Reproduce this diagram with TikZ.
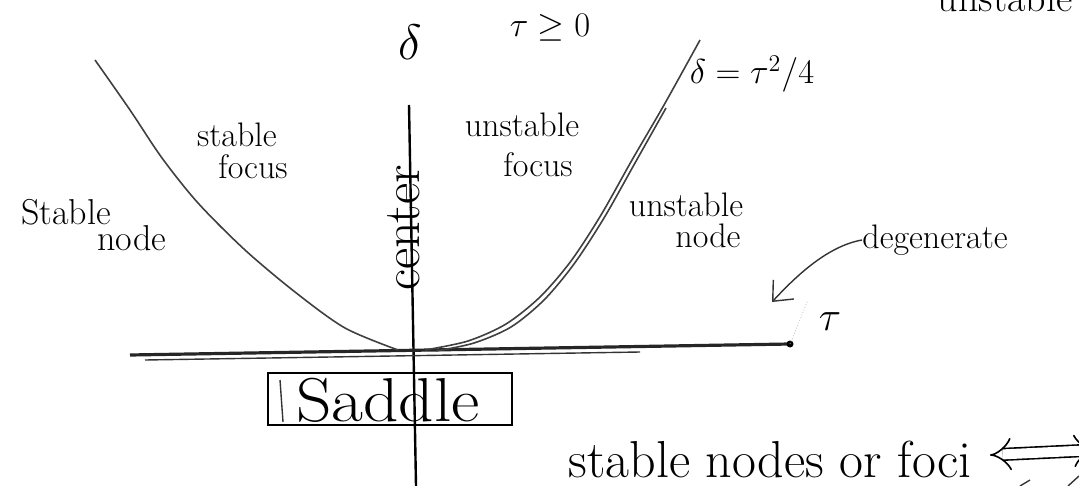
\documentclass[tikz,border=0pt]{standalone}
\usetikzlibrary{arrows.meta}
\begin{document}
\begin{tikzpicture}[x=0.5pt,y=-0.5pt,
  hand/.style={inner sep=0pt, font=\fontsize{17}{19}\selectfont},
  big/.style={inner sep=0pt, font=\fontsize{24}{26}\selectfont},
  axisline/.style={line width=1.6pt, black!85},
  thin/.style={line width=0.7pt, black!80},
  branch/.style={line width=0.8pt, black!75},
]
\useasboundingbox (0,0) rectangle (1079,486);

% axes
\coordinate (vt) at (409,105);
\coordinate (vb) at (416,486);
\coordinate (hl) at (130,355);
\coordinate (hr) at (790,344);
\coordinate (hl2) at (145,360);
\coordinate (hr2) at (640,352);
\draw[line width=1.2pt] (vt) -- (vb);
\draw[axisline] (hl) -- (hr);
\draw[thin] (hl2) -- (hr2);
\fill (hr) circle (3.5);

% parabola delta = tau^2/4
\draw[branch] plot[smooth] coordinates {(95,60) (130,110) (162,158) (198,203) (245,250) (295,292) (345,328) (398,350)};
\draw[branch] plot[smooth] coordinates {(425,350) (468,341) (506,324) (540,297) (571,261) (601,215) (632,160) (664,105) (700,40)};
\draw[branch] plot[smooth] coordinates {(436,351) (474,343) (511,327) (544,300) (574,264) (604,218) (635,163) (666,108)};

% labels
\node[big] (delta) at (410,42) {$\delta$};
\node[hand, font=\fontsize{18}{20}\selectfont] (tpos) at (550,28) {$\tau\geq 0$};
\node[hand, font=\fontsize{20}{22}\selectfont] (unst) at (1005,-2) {unstable};
\node[hand] (curve) at (752,74) {$\delta=\tau^2/4$};
\node[hand] (sf1) at (237,135) {stable};
\node[hand] (sf2) at (253,167) {focus};
\node[hand] (uf1) at (522,125) {unstable};
\node[hand] (uf2) at (538,165) {focus};
\node[hand, rotate=90, font=\fontsize{26}{28}\selectfont] (center) at (404,228) {center};
\node[hand, font=\fontsize{18}{20}\selectfont] (sn1) at (66,212) {Stable};
\node[hand, font=\fontsize{18}{20}\selectfont] (sn2) at (132,238) {node};
\node[hand] (un1) at (686,205) {unstable};
\node[hand] (un2) at (708,236) {node};
\node[hand] (degen) at (935,240) {degenerate};
\node[hand, font=\fontsize{20}{22}\selectfont] (tau) at (830,322) {$\tau$};

% degenerate arrow
\coordinate (dtip) at (772,302);
\draw[thin, -{Straight Barb[length=8pt,width=14pt]}] (degen.west) .. controls (828,246) and (797,275) .. (dtip);
\coordinate (dot2) at (808,300);
\draw[gray!50, line width=0.4pt, densely dotted] (hr) -- (dot2);

% saddle box
\node[draw, line width=0.8pt, minimum width=122pt, minimum height=26pt, inner sep=0pt] (saddlebox) at (390,399) {};
\node[inner sep=0pt, font=\fontsize{31}{32}\selectfont] (saddle) at (388,400) {\scalebox{1.12}[1]{Saddle}};
\coordinate (m1) at (280,380);
\coordinate (m2) at (283,422);
\draw[thin] (m1) -- (m2);

% bottom text
\node[inner sep=0pt, font=\fontsize{26}{28}\selectfont] (snf) at (770,459) {stable nodes or foci};
\coordinate (ia) at (990,455);
\coordinate (ib) at (1095,450);
\draw[line width=0.8pt, double, double distance=5pt, {Implies}-{Implies}] (ia) -- (ib);
\coordinate (s1) at (1020,486);
\coordinate (s2) at (1030,480);
\draw[thin] (s1) -- (s2);
\coordinate (s3) at (1068,486);
\coordinate (s4) at (1079,476);
\draw[thin] (s3) -- (s4);
\end{tikzpicture}
\end{document}
